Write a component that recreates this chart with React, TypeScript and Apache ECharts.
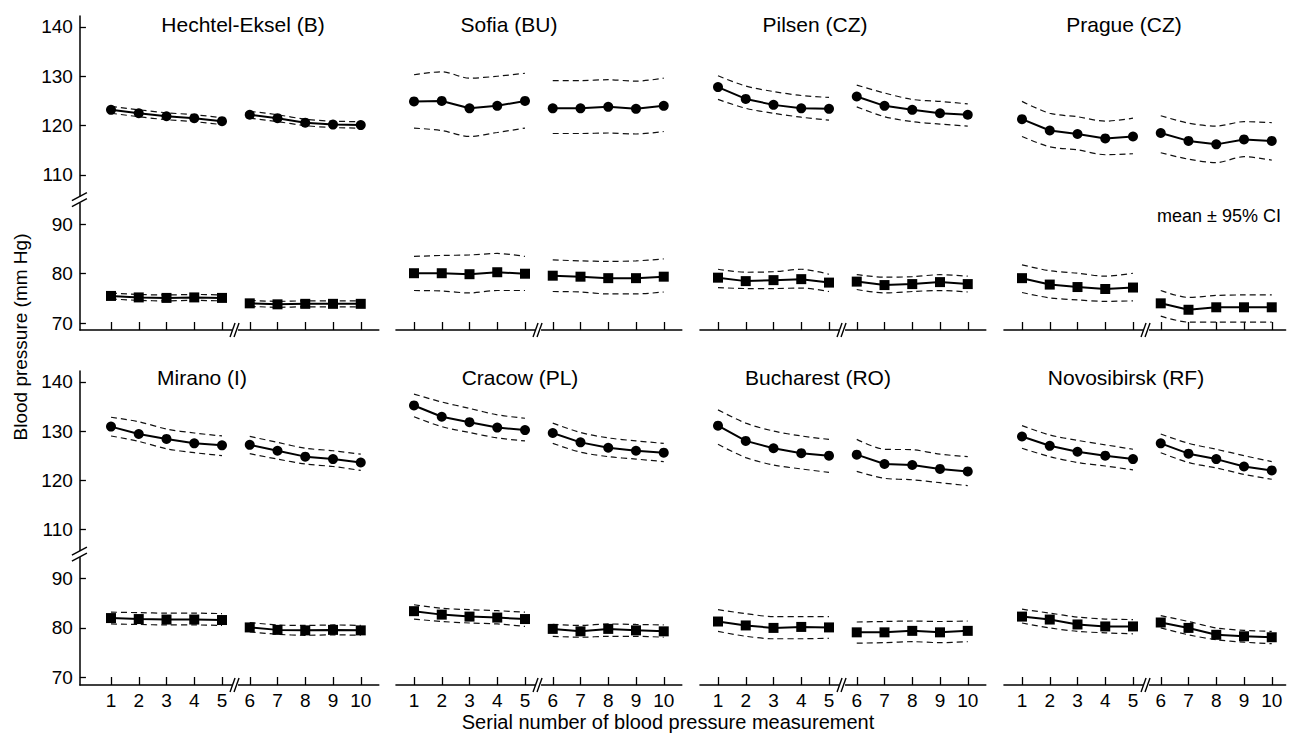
import { useEffect, useRef } from "react";
import * as echarts from "echarts";

// ---------------- data ----------------
const measurements = [1, 2, 3, 4, 5, 6, 7, 8, 9, 10];
const yTickLabels = [70, 80, 90, 110, 120, 130, 140];
const centres = [
  "Hechtel-Eksel (B)",
  "Sofia (BU)",
  "Pilsen (CZ)",
  "Prague (CZ)",
  "Mirano (I)",
  "Cracow (PL)",
  "Bucharest (RO)",
  "Novosibirsk (RF)",
];

const hechtelSys = [123.2, 122.5, 121.9, 121.5, 120.9, 122.2, 121.5, 120.6, 120.2, 120.1];
const hechtelSysLo = [122.5, 121.8, 121.2, 120.8, 120.2, 121.5, 120.8, 120.0, 119.6, 119.5];
const hechtelSysHi = [123.9, 123.2, 122.6, 122.2, 121.6, 122.9, 122.2, 121.3, 120.9, 120.8];
const hechtelDia = [75.5, 75.2, 75.1, 75.2, 75.1, 74.0, 73.8, 73.9, 73.9, 73.9];
const hechtelDiaLo = [74.9, 74.6, 74.5, 74.6, 74.5, 73.4, 73.2, 73.3, 73.3, 73.3];
const hechtelDiaHi = [76.1, 75.8, 75.7, 75.8, 75.7, 74.6, 74.4, 74.5, 74.5, 74.5];

const sofiaSys = [124.9, 125.0, 123.5, 124.0, 125.0, 123.5, 123.5, 123.8, 123.4, 124.0];
const sofiaSysLo = [119.5, 119.0, 117.8, 118.6, 119.5, 118.4, 118.4, 118.5, 118.3, 118.8];
const sofiaSysHi = [130.3, 130.9, 129.6, 130.0, 130.6, 129.1, 129.1, 129.3, 129.0, 129.6];
const sofiaDia = [80.1, 80.1, 79.9, 80.3, 80.0, 79.6, 79.4, 79.1, 79.1, 79.4];
const sofiaDiaLo = [76.6, 76.5, 76.1, 76.6, 76.6, 76.4, 76.3, 75.9, 75.9, 76.3];
const sofiaDiaHi = [83.5, 83.7, 83.8, 84.1, 83.5, 82.8, 82.6, 82.5, 82.6, 83.0];

const pilsenSys = [127.8, 125.4, 124.2, 123.5, 123.4, 125.9, 124.0, 123.2, 122.5, 122.2];
const pilsenSysLo = [125.3, 123.5, 122.5, 121.7, 121.1, 123.8, 121.8, 120.8, 120.3, 119.9];
const pilsenSysHi = [130.1, 128.0, 126.9, 126.1, 125.7, 128.2, 126.6, 125.3, 124.9, 124.4];
const pilsenDia = [79.2, 78.5, 78.7, 78.9, 78.2, 78.4, 77.7, 77.9, 78.3, 77.9];
const pilsenDiaLo = [77.2, 77.0, 77.0, 77.1, 76.4, 76.8, 76.1, 76.4, 76.6, 76.3];
const pilsenDiaHi = [80.9, 80.3, 80.4, 80.9, 79.9, 79.8, 79.3, 79.4, 79.8, 79.5];

const pragueSys = [121.3, 119.0, 118.3, 117.4, 117.8, 118.5, 116.9, 116.2, 117.2, 116.9];
const pragueSysLo = [117.8, 115.7, 115.1, 114.1, 114.3, 114.5, 113.2, 112.5, 113.7, 113.0];
const pragueSysHi = [124.9, 122.5, 121.8, 120.9, 121.5, 122.0, 120.5, 119.9, 120.8, 120.6];
const pragueDia = [79.1, 77.8, 77.3, 76.9, 77.2, 74.0, 72.7, 73.2, 73.2, 73.2];
const pragueDiaLo = [76.2, 75.1, 74.7, 74.4, 74.5, 71.4, 70.2, 70.2, 70.2, 70.2];
const pragueDiaHi = [81.8, 80.6, 80.1, 79.5, 80.1, 76.6, 75.2, 75.6, 75.7, 75.7];

const miranoSys = [130.9, 129.4, 128.4, 127.5, 127.1, 127.2, 126.0, 124.8, 124.3, 123.6];
const miranoSysLo = [129.0, 127.9, 126.4, 125.6, 125.0, 125.4, 124.3, 123.3, 122.8, 122.0];
const miranoSysHi = [132.8, 131.9, 130.4, 129.6, 129.0, 128.9, 127.7, 126.5, 126.0, 125.3];
const miranoDia = [82.0, 81.8, 81.7, 81.7, 81.6, 80.1, 79.6, 79.5, 79.6, 79.5];
const miranoDiaLo = [80.8, 80.7, 80.6, 80.6, 80.5, 79.2, 78.7, 78.5, 78.6, 78.5];
const miranoDiaHi = [83.2, 83.1, 83.0, 83.0, 82.9, 81.1, 80.6, 80.5, 80.6, 80.5];

const cracowSys = [135.2, 132.9, 131.8, 130.7, 130.2, 129.6, 127.7, 126.6, 126.0, 125.6];
const cracowSysLo = [132.9, 130.9, 129.7, 128.6, 128.0, 127.5, 125.7, 124.8, 124.3, 123.8];
const cracowSysHi = [137.5, 135.9, 134.6, 133.3, 132.6, 131.6, 129.7, 128.6, 128.0, 127.5];
const cracowDia = [83.4, 82.7, 82.3, 82.1, 81.8, 79.8, 79.3, 79.8, 79.5, 79.3];
const cracowDiaLo = [81.8, 81.3, 81.0, 80.8, 80.3, 78.3, 78.1, 78.3, 78.3, 78.1];
const cracowDiaHi = [84.7, 84.0, 83.7, 83.5, 83.2, 80.7, 80.5, 80.8, 80.7, 80.6];

const bucharestSys = [131.1, 128.0, 126.5, 125.5, 125.0, 125.2, 123.3, 123.1, 122.3, 121.8];
const bucharestSysLo = [127.3, 124.6, 123.1, 122.3, 121.6, 121.8, 120.4, 120.1, 119.5, 118.9];
const bucharestSysHi = [134.3, 131.6, 130.0, 129.0, 128.3, 128.3, 126.3, 126.2, 125.3, 124.8];
const bucharestDia = [81.3, 80.5, 80.0, 80.2, 80.1, 79.1, 79.1, 79.4, 79.1, 79.4];
const bucharestDiaLo = [79.3, 78.3, 77.8, 77.8, 77.9, 76.9, 77.0, 77.2, 77.0, 77.2];
const bucharestDiaHi = [83.7, 82.9, 82.3, 82.3, 82.3, 81.2, 81.3, 81.4, 81.3, 81.4];

const novosibirskSys = [128.9, 127.0, 125.8, 125.0, 124.3, 127.5, 125.4, 124.3, 122.8, 122.0];
const novosibirskSysLo = [126.5, 124.8, 123.6, 122.9, 122.1, 125.6, 123.6, 122.5, 121.2, 120.2];
const novosibirskSysHi = [131.1, 129.2, 128.1, 127.2, 126.3, 129.4, 127.5, 126.3, 125.0, 123.8];
const novosibirskDia = [82.3, 81.7, 80.7, 80.3, 80.3, 81.1, 80.0, 78.6, 78.3, 78.1];
const novosibirskDiaLo = [81.0, 80.0, 79.3, 79.0, 78.8, 80.0, 78.6, 77.6, 77.1, 76.8];
const novosibirskDiaHi = [83.8, 83.0, 82.2, 81.8, 81.7, 82.5, 81.3, 80.0, 79.5, 79.3];

const panelData = [
  [hechtelSys, hechtelSysLo, hechtelSysHi, hechtelDia, hechtelDiaLo, hechtelDiaHi],
  [sofiaSys, sofiaSysLo, sofiaSysHi, sofiaDia, sofiaDiaLo, sofiaDiaHi],
  [pilsenSys, pilsenSysLo, pilsenSysHi, pilsenDia, pilsenDiaLo, pilsenDiaHi],
  [pragueSys, pragueSysLo, pragueSysHi, pragueDia, pragueDiaLo, pragueDiaHi],
  [miranoSys, miranoSysLo, miranoSysHi, miranoDia, miranoDiaLo, miranoDiaHi],
  [cracowSys, cracowSysLo, cracowSysHi, cracowDia, cracowDiaLo, cracowDiaHi],
  [bucharestSys, bucharestSysLo, bucharestSysHi, bucharestDia, bucharestDiaLo, bucharestDiaHi],
  [novosibirskSys, novosibirskSysLo, novosibirskSysHi, novosibirskDia, novosibirskDiaLo, novosibirskDiaHi],
];

// ---------------- axis break (110 .. 90 shown with a gap of 10 units) ----------------
const BREAK_AT = 100;
const BREAK_SHIFT = 10;
const toAxis = (v: number) => (v > BREAK_AT ? v - BREAK_SHIFT : v);
const fromAxis = (v: number) => (v >= BREAK_AT ? v + BREAK_SHIFT : v);

// ---------------- layout ----------------
const FONT = "'Liberation Sans', Arial, Helvetica, sans-serif";
const U = 27.75; // px per measurement
const colX1 = [111, 414, 718, 1022];
const colMin = [-0.12, 0.35, 0.35, 0.35];
const colMax = [10.65, 10.65, 10.65, 10.5];
const rowTop = [16, 371];
const rowHeight = 314;
const rowMin = [68.6, 68.4];
const axisMax = 132.2;
const titlePos = [
  [243, 24], [509, 24], [815, 24], [1124, 24],
  [202, 377], [520, 377], [818, 377], [1126, 377],
];
const BREAK_X = 5.47;

function buildOption() {
  const grids: any[] = [];
  const xAxes: any[] = [];
  const yAxes: any[] = [];
  const series: any[] = [];
  const graphics: any[] = [];

  for (let p = 0; p < 8; p++) {
    const row = Math.floor(p / 4);
    const col = p % 4;
    const left = colX1[col] - (1 - colMin[col]) * U;
    const width = (colMax[col] - colMin[col]) * U;
    grids.push({ left, top: rowTop[row], width, height: rowHeight, containLabel: false });

    xAxes.push({
      gridIndex: p,
      type: "value",
      min: colMin[col],
      max: colMax[col],
      splitLine: { show: false },
      axisLine: { show: true, onZero: false, lineStyle: { color: "#000", width: 1.5 } },
      axisTick: {
        show: true,
        inside: true,
        length: 8,
        customValues: measurements,
        lineStyle: { color: "#000", width: 1.3 },
      },
      axisLabel: {
        show: row === 1,
        customValues: measurements,
        fontSize: 19,
        color: "#000",
        fontFamily: FONT,
        margin: 6,
      },
    });

    const showY = col === 0;
    yAxes.push({
      gridIndex: p,
      type: "value",
      min: rowMin[row],
      max: axisMax,
      show: showY,
      splitLine: { show: false },
      axisLine: { show: showY, onZero: false, lineStyle: { color: "#000", width: 1.5 } },
      axisTick: {
        show: showY,
        inside: true,
        length: 6,
        customValues: yTickLabels.map(toAxis),
        lineStyle: { color: "#000", width: 1.3 },
      },
      axisLabel: {
        show: showY,
        customValues: yTickLabels.map(toAxis),
        formatter: (v: number) => String(fromAxis(v)),
        fontSize: 19,
        color: "#000",
        fontFamily: FONT,
        margin: 7,
      },
    });

    const d = panelData[p];
    const measures = [
      { mean: d[0], lo: d[1], hi: d[2], symbol: "circle", size: 10 },
      { mean: d[3], lo: d[4], hi: d[5], symbol: "rect", size: 10 },
    ];
    const segments = [[0, 5], [5, 10]];
    for (const m of measures) {
      for (const [a, b] of segments) {
        const pts = (arr: number[]) =>
          measurements.slice(a, b).map((x, i) => [x, toAxis(arr[a + i])]);
        for (const band of [m.lo, m.hi]) {
          series.push({
            type: "line",
            xAxisIndex: p,
            yAxisIndex: p,
            data: pts(band),
            symbol: "none",
            smooth: 0.3,
            silent: true,
            z: 2,
            lineStyle: { color: "#111", width: 1.2, type: [6, 4] },
          });
        }
        series.push({
          type: "line",
          xAxisIndex: p,
          yAxisIndex: p,
          data: pts(m.mean),
          symbol: m.symbol,
          symbolSize: m.size,
          silent: true,
          z: 3,
          lineStyle: { color: "#000", width: 2 },
          itemStyle: { color: "#000" },
        });
      }
    }

    // panel title
    graphics.push({
      type: "text",
      x: titlePos[p][0],
      y: titlePos[p][1],
      silent: true,
      style: {
        text: centres[p],
        fontSize: 21,
        fontFamily: FONT,
        fill: "#000",
        textAlign: "center",
        textVerticalAlign: "middle",
      },
    });

    // x-axis break mark "//"
    const ay = rowTop[row] + rowHeight;
    const bx = left + (BREAK_X - colMin[col]) * U;
    graphics.push({
      type: "rect",
      silent: true,
      z: 100,
      shape: { x: bx - 3, y: ay - 2, width: 6, height: 4 },
      style: { fill: "#fff" },
    });
    for (const off of [-3, 1]) {
      graphics.push({
        type: "line",
        silent: true,
        z: 101,
        shape: { x1: bx + off - 2, y1: ay + 7, x2: bx + off + 3, y2: ay - 7 },
        style: { stroke: "#000", lineWidth: 1.4 },
      });
    }

    // y-axis break mark
    if (col === 0) {
      const yTop = rowTop[row];
      const yh = (v: number) => yTop + ((axisMax - toAxis(v)) / (axisMax - rowMin[row])) * rowHeight;
      const cy = (yh(110) + yh(90)) / 2;
      graphics.push({
        type: "rect",
        silent: true,
        z: 100,
        shape: { x: left - 3, y: cy - 3, width: 6, height: 6 },
        style: { fill: "#fff" },
      });
      for (const off of [-3, 3]) {
        graphics.push({
          type: "line",
          silent: true,
          z: 101,
          shape: { x1: left - 8, y1: cy + off + 4, x2: left + 7, y2: cy + off - 4 },
          style: { stroke: "#000", lineWidth: 1.4 },
        });
      }
    }
  }

  graphics.push({
    type: "text",
    x: 20,
    y: 337,
    rotation: Math.PI / 2,
    silent: true,
    style: {
      text: "Blood pressure (mm Hg)",
      fontSize: 19,
      fontFamily: FONT,
      fill: "#000",
      textAlign: "center",
      textVerticalAlign: "middle",
    },
  });
  graphics.push({
    type: "text",
    x: 668,
    y: 722,
    silent: true,
    style: {
      text: "Serial number of blood pressure measurement",
      fontSize: 20,
      fontFamily: FONT,
      fill: "#000",
      textAlign: "center",
      textVerticalAlign: "middle",
    },
  });
  graphics.push({
    type: "text",
    x: 1281,
    y: 216,
    silent: true,
    style: {
      text: "mean ± 95% CI",
      fontSize: 18,
      fontFamily: FONT,
      fill: "#000",
      textAlign: "right",
      textVerticalAlign: "middle",
    },
  });

  return {
    animation: false,
    backgroundColor: "#fff",
    grid: grids,
    xAxis: xAxes,
    yAxis: yAxes,
    series,
    graphic: graphics,
  };
}

export default function App() {
  const ref = useRef<HTMLDivElement>(null);
  useEffect(() => {
    if (!ref.current) return;
    const chart = echarts.init(ref.current, undefined, { renderer: "svg" });
    chart.setOption(buildOption() as any);
    return () => chart.dispose();
  }, []);
  return (
    <div
      ref={ref}
      style={{ position: "absolute", left: 0, top: 0, width: 1289, height: 738, background: "#fff" }}
    />
  );
}
